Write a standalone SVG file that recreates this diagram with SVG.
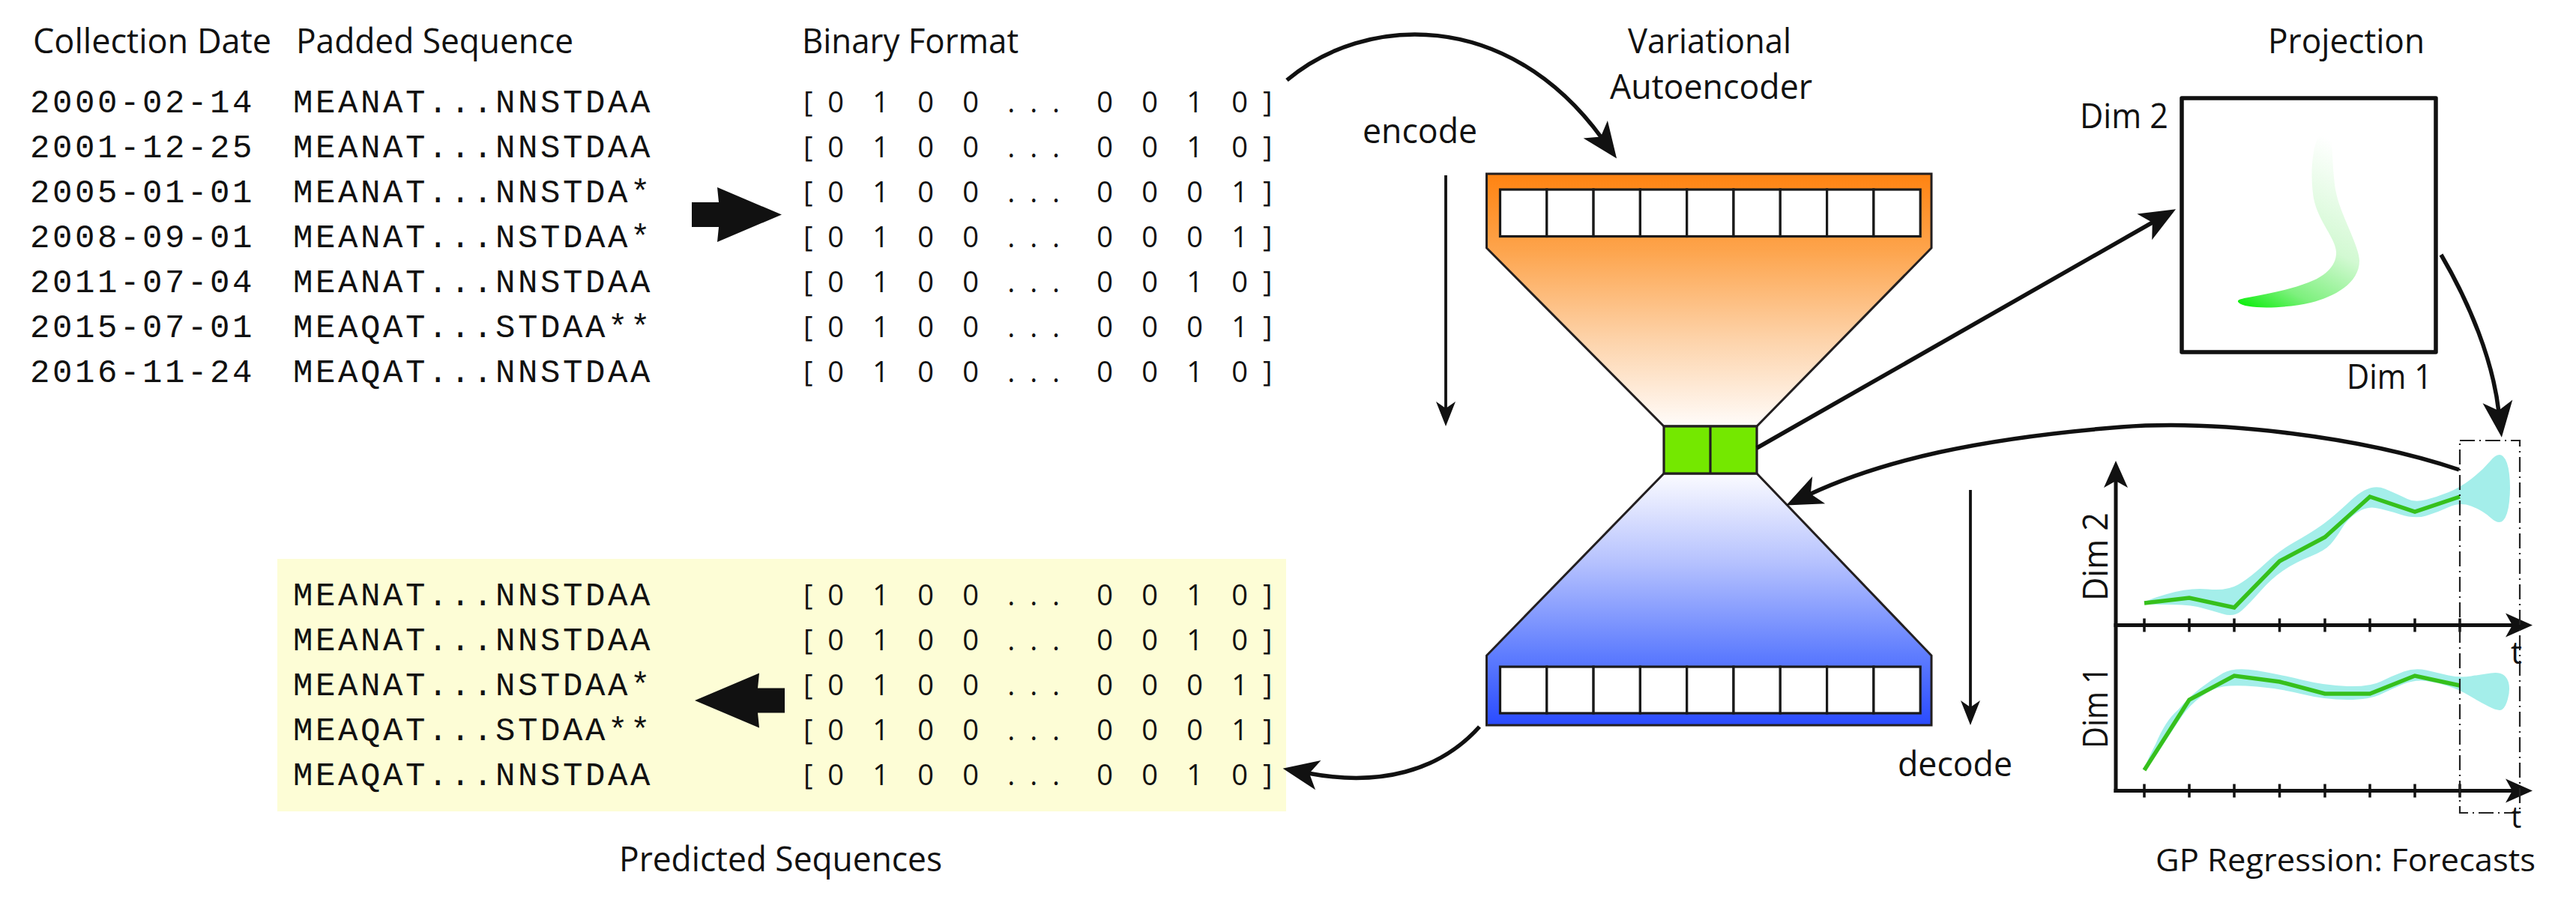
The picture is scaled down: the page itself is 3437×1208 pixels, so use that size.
<svg xmlns="http://www.w3.org/2000/svg" width="3437" height="1208" viewBox="0 0 3437 1208">
<defs>
<style>
.t{font-family:"Open Sans","Liberation Sans",sans-serif;font-size:45px;fill:#111}
.m{font-family:"Liberation Mono",monospace;font-size:44px;letter-spacing:3.6px;fill:#111}
.b{font-family:"Open Sans","Liberation Sans",sans-serif;font-size:38px;letter-spacing:19.9px;word-spacing:-11.4px;fill:#111}
.c{fill:none;stroke:#111;stroke-width:5.5}
.cs{fill:none;stroke:#111;stroke-width:3.8}
.ax{fill:none;stroke:#111;stroke-width:5}
.tick{fill:none;stroke:#111;stroke-width:3.5}
.cell{fill:#fff;stroke:#1a1a1a;stroke-width:3.2}
.ol{stroke:#231f20;stroke-width:3}
.band{fill:#a4eeea}
.gl{fill:none;stroke:#36c01c;stroke-width:5.5;stroke-linejoin:miter}
</style>
<linearGradient id="og" gradientUnits="userSpaceOnUse" x1="0" y1="232" x2="0" y2="569">
<stop offset="0" stop-color="#ff8311"/><stop offset="0.3" stop-color="#fda44c"/><stop offset="0.65" stop-color="#fdd2a8"/><stop offset="1" stop-color="#fffcfa"/>
</linearGradient>
<linearGradient id="bg" gradientUnits="userSpaceOnUse" x1="0" y1="632" x2="0" y2="968">
<stop offset="0" stop-color="#fbfbff"/><stop offset="0.35" stop-color="#b6c2fe"/><stop offset="0.72" stop-color="#5f7dfe"/><stop offset="1" stop-color="#2a4bff"/>
</linearGradient>
<linearGradient id="sg" gradientUnits="userSpaceOnUse" x1="2990" y1="405" x2="3105" y2="185">
<stop offset="0" stop-color="#12ee12"/><stop offset="0.18" stop-color="#7ef07e"/><stop offset="0.48" stop-color="#d2f9d2"/><stop offset="1" stop-color="#ffffff"/>
</linearGradient>
<marker id="ah" markerUnits="userSpaceOnUse" viewBox="0 -25 60 50" markerWidth="60" markerHeight="50" refX="14" refY="0" orient="auto" overflow="visible">
<path d="M0,-20 L48,0 L0,20 L12,0 Z" fill="#111"/>
</marker>
<marker id="as" markerUnits="userSpaceOnUse" viewBox="0 -15 40 30" markerWidth="40" markerHeight="30" refX="11" refY="0" orient="auto" overflow="visible">
<path d="M0,-13 L33,0 L0,13 L9,0 Z" fill="#111"/>
</marker>
<marker id="ax" markerUnits="userSpaceOnUse" viewBox="0 -18 40 36" markerWidth="40" markerHeight="36" refX="11" refY="0" orient="auto" overflow="visible">
<path d="M0,-16 L36,0 L0,16 L9,0 Z" fill="#111"/>
</marker>
<path id="fat" d="M-120,-16.5 L-84,-16.5 L-86,-36.5 L0,0 L-86,36.5 L-84,16.5 L-120,16.5 Z" fill="#111"/>
</defs>
<rect width="3437" height="1208" fill="#fff"/>

<g id="input-sequences">
<text class="t" x="44" y="71" textLength="318" lengthAdjust="spacingAndGlyphs">Collection Date</text>
<text class="t" x="395" y="71" textLength="370" lengthAdjust="spacingAndGlyphs">Padded Sequence</text>
<text class="m" x="40" y="149.5">2000-02-14</text>
<text class="m" x="40" y="209.5">2001-12-25</text>
<text class="m" x="40" y="269.5">2005-01-01</text>
<text class="m" x="40" y="329.5">2008-09-01</text>
<text class="m" x="40" y="389.5">2011-07-04</text>
<text class="m" x="40" y="449.5">2015-07-01</text>
<text class="m" x="40" y="509.5">2016-11-24</text>
<text class="m" x="391" y="149.5">MEANAT...NNSTDAA</text>
<text class="m" x="391" y="209.5">MEANAT...NNSTDAA</text>
<text class="m" x="391" y="269.5">MEANAT...NNSTDA*</text>
<text class="m" x="391" y="329.5">MEANAT...NSTDAA*</text>
<text class="m" x="391" y="389.5">MEANAT...NNSTDAA</text>
<text class="m" x="391" y="449.5">MEAQAT...STDAA**</text>
<text class="m" x="391" y="509.5">MEAQAT...NNSTDAA</text>
</g>

<g id="binary-format">
<text class="t" x="1070" y="71" textLength="289" lengthAdjust="spacingAndGlyphs">Binary Format</text>
<text class="b" x="1072" y="149.5">[0 1 0 0 ... <tspan dx="11">0 0 1 0]</tspan></text>
<text class="b" x="1072" y="209.5">[0 1 0 0 ... <tspan dx="11">0 0 1 0]</tspan></text>
<text class="b" x="1072" y="269.5">[0 1 0 0 ... <tspan dx="11">0 0 0 1]</tspan></text>
<text class="b" x="1072" y="329.5">[0 1 0 0 ... <tspan dx="11">0 0 0 1]</tspan></text>
<text class="b" x="1072" y="389.5">[0 1 0 0 ... <tspan dx="11">0 0 1 0]</tspan></text>
<text class="b" x="1072" y="449.5">[0 1 0 0 ... <tspan dx="11">0 0 0 1]</tspan></text>
<text class="b" x="1072" y="509.5">[0 1 0 0 ... <tspan dx="11">0 0 1 0]</tspan></text>
</g>

<g id="vae">
<text class="t" x="2172" y="71" textLength="218" lengthAdjust="spacingAndGlyphs">Variational</text>
<text class="t" x="2148" y="132" textLength="270" lengthAdjust="spacingAndGlyphs">Autoencoder</text>
<path class="ol" fill="url(#og)" d="M1983.5,232 H2577 V331 L2344,569 H2220 L1983.5,331 Z"/>
<path class="ol" fill="url(#bg)" d="M2220,632 H2344 L2577,875 V968 H1983.5 V875 Z"/>
<g class="cell">
<rect x="2001.5" y="253" width="62.3" height="62.5"/><rect x="2063.8" y="253" width="62.3" height="62.5"/><rect x="2126.1" y="253" width="62.3" height="62.5"/><rect x="2188.4" y="253" width="62.3" height="62.5"/><rect x="2250.7" y="253" width="62.3" height="62.5"/><rect x="2313" y="253" width="62.3" height="62.5"/><rect x="2375.3" y="253" width="62.3" height="62.5"/><rect x="2437.6" y="253" width="62.3" height="62.5"/><rect x="2499.9" y="253" width="62.3" height="62.5"/>
<rect x="2001.5" y="890" width="62.3" height="62"/><rect x="2063.8" y="890" width="62.3" height="62"/><rect x="2126.1" y="890" width="62.3" height="62"/><rect x="2188.4" y="890" width="62.3" height="62"/><rect x="2250.7" y="890" width="62.3" height="62"/><rect x="2313" y="890" width="62.3" height="62"/><rect x="2375.3" y="890" width="62.3" height="62"/><rect x="2437.6" y="890" width="62.3" height="62"/><rect x="2499.9" y="890" width="62.3" height="62"/>
</g>
<rect x="2220" y="569" width="124" height="63" fill="#74e800" stroke="#231f20" stroke-width="3.2"/>
<line x1="2282" y1="569" x2="2282" y2="632" stroke="#231f20" stroke-width="3.2"/>
<text class="t" x="1818" y="191" textLength="153" lengthAdjust="spacingAndGlyphs">encode</text>
<text class="t" x="2532" y="1036" textLength="153" lengthAdjust="spacingAndGlyphs">decode</text>
</g>

<g id="projection">
<text class="t" x="3026" y="71" textLength="209" lengthAdjust="spacingAndGlyphs">Projection</text>
<text class="t" x="2775" y="171" textLength="118" lengthAdjust="spacingAndGlyphs">Dim 2</text>
<text class="t" x="3131" y="519" textLength="114" lengthAdjust="spacingAndGlyphs">Dim 1</text>
<path fill="url(#sg)" d="M2987,404 C2995,413 3050,412 3083,404 C3115,396 3148,378 3148,348 C3148,330 3125,290 3118,262 C3112,238 3113,200 3110,188 C3107,178 3096,177 3092,186 C3085,200 3082,235 3087,265 C3093,295 3116,318 3117,336 C3118,356 3100,370 3080,377 C3055,387 3025,392 3000,397 C2990,399 2983,400 2987,404 Z"/>
<rect x="2911" y="131" width="339" height="339" fill="none" stroke="#111" stroke-width="5.5" stroke-linejoin="round"/>
</g>

<g id="gp-regression">
<path class="band" d="M2861,804.5 Q2861,802 2891,793 Q2921,784 2946,786.5 Q2971,789 2986,780.5 Q3001,772 3021,753.5 Q3041,735 3061.5,723.5 Q3082,712 3097,701.5 Q3112,691 3137,667.5 Q3162,644 3182,652.5 Q3202,661 3212,666 Q3222,671 3237,667 Q3252,663 3267,657 Q3282,651 3297,639.5 Q3312,628 3322.5,615.5 Q3333,603 3339.5,609 Q3346,615 3348,633 Q3350,651 3348,669.5 Q3346,688 3340,694.5 Q3334,701 3323,691 Q3312,681 3297,675.5 Q3282,670 3267,677 Q3252,684 3237,688.5 Q3222,693 3202,686.5 Q3182,680 3169.5,678 Q3157,676 3144.5,684.5 Q3132,693 3124.5,705.5 Q3117,718 3109.5,726.5 Q3102,735 3082,743 Q3062,751 3046.5,761.5 Q3031,772 3016,789 Q3001,806 2991,815 Q2981,824 2966,819.5 Q2951,815 2936,811 Q2921,807 2891,807 Q2861,807 2861,804.5 Z"/>
<path class="band" d="M2862,1026 Q2861,1022 2876,993.5 Q2889,962 2906,947.5 Q2921,930 2936,918.5 Q2951,907 2966,898.5 Q2981,890 3011,895 Q3041,900 3071.5,907.5 Q3102,915 3132,916 Q3162,917 3177,909.5 Q3192,902 3207,896.5 Q3222,891 3237,894.5 Q3252,898 3267,901.5 Q3282,905 3297,902.5 Q3312,900 3323.5,898.5 Q3335,897 3340.5,901 Q3346,905 3347.5,913.5 Q3349,922 3346,933 Q3343,944 3338.5,947 Q3334,950 3320.5,943 Q3307,936 3294.5,928.5 Q3282,921 3267,916 Q3252,911 3237,909 Q3222,907 3207,913 Q3192,919 3177,926.5 Q3162,934 3132,934 Q3102,934 3071.5,926.5 Q3041,919 3011,916.5 Q2981,914 2966,916.5 Q2951,919 2936,930.5 Q2921,942 2912,955 Q2903,968 2883,999 Q2863,1030 2862,1026 Z"/>
<path class="gl" d="M2861,805 L2921,798 L2981,811 L3041.5,749 L3102,717 L3162,663 L3222,683 L3282,663"/>
<path class="gl" d="M2861,1028 L2921,934 L2981,902 L3041.5,910 L3102,926 L3162,926 L3222,902 L3282,915"/>
<path class="ax" d="M2823,1058 V640" marker-end="url(#ax)"/>
<path class="ax" d="M2820.5,834.5 H3354" marker-end="url(#ax)"/>
<path class="ax" d="M2820.5,1055.5 H3354" marker-end="url(#ax)"/>
<path class="tick" d="M2861,825.5v18M2921,825.5v18M2981,825.5v18M3041.5,825.5v18M3102,825.5v18M3162,825.5v18M3222,825.5v18M3282,825.5v18"/>
<path class="tick" d="M2861,1046.5v18M2921,1046.5v18M2981,1046.5v18M3041.5,1046.5v18M3102,1046.5v18M3162,1046.5v18M3222,1046.5v18M3282,1046.5v18"/>
<rect x="3282" y="588" width="80" height="497" fill="none" stroke="#222" stroke-width="2.2" stroke-dasharray="20 6 2 6"/>
<text class="t" x="3350" y="886" style="font-size:42px">t</text>
<text class="t" x="3350" y="1105" style="font-size:40px">t</text>
<text class="t" transform="translate(2812,802) rotate(-90)" x="0" y="0" textLength="118" lengthAdjust="spacingAndGlyphs">Dim 2</text>
<text class="t" transform="translate(2812,999) rotate(-90)" x="0" y="0" textLength="109" lengthAdjust="spacingAndGlyphs">Dim 1</text>
<text class="t" x="2876" y="1163" style="font-size:42px" textLength="507" lengthAdjust="spacingAndGlyphs">GP Regression: Forecasts</text>
</g>

<g id="predicted-sequences">
<rect x="370" y="746" width="1346" height="337" fill="#fdfdd6"/>
<text class="m" x="391" y="808">MEANAT...NNSTDAA</text>
<text class="m" x="391" y="868">MEANAT...NNSTDAA</text>
<text class="m" x="391" y="928">MEANAT...NSTDAA*</text>
<text class="m" x="391" y="988">MEAQAT...STDAA**</text>
<text class="m" x="391" y="1048">MEAQAT...NNSTDAA</text>
<text class="b" x="1072" y="808">[0 1 0 0 ... <tspan dx="11">0 0 1 0]</tspan></text>
<text class="b" x="1072" y="868">[0 1 0 0 ... <tspan dx="11">0 0 1 0]</tspan></text>
<text class="b" x="1072" y="928">[0 1 0 0 ... <tspan dx="11">0 0 0 1]</tspan></text>
<text class="b" x="1072" y="988">[0 1 0 0 ... <tspan dx="11">0 0 0 1]</tspan></text>
<text class="b" x="1072" y="1048">[0 1 0 0 ... <tspan dx="11">0 0 1 0]</tspan></text>
<text class="t" x="826" y="1163" textLength="431" lengthAdjust="spacingAndGlyphs">Predicted Sequences</text>
</g>

<g id="connectors">
<use href="#fat" transform="translate(1043,286.5)"/>
<use href="#fat" transform="translate(927,935) scale(-1,1)"/>
<path class="c" d="M1717,107 C1820,20 2010,10 2137,184" marker-end="url(#ah)"/>
<path class="cs" d="M1929,234 V547" marker-end="url(#as)"/>
<path class="c" d="M2344,598 L2873.5,296" marker-end="url(#ah)"/>
<path class="c" d="M3257,340 C3295,405 3326,480 3334,550" marker-end="url(#ah)"/>
<path class="c" d="M3281,627 C3150,583 2960,560 2830,570 C2640,585 2510,615 2414,660" marker-end="url(#ah)"/>
<path class="cs" d="M2629,654 V946" marker-end="url(#as)"/>
<path class="c" d="M1974,970 C1920,1030 1840,1050 1745,1032" marker-end="url(#ah)"/>
</g>
</svg>
